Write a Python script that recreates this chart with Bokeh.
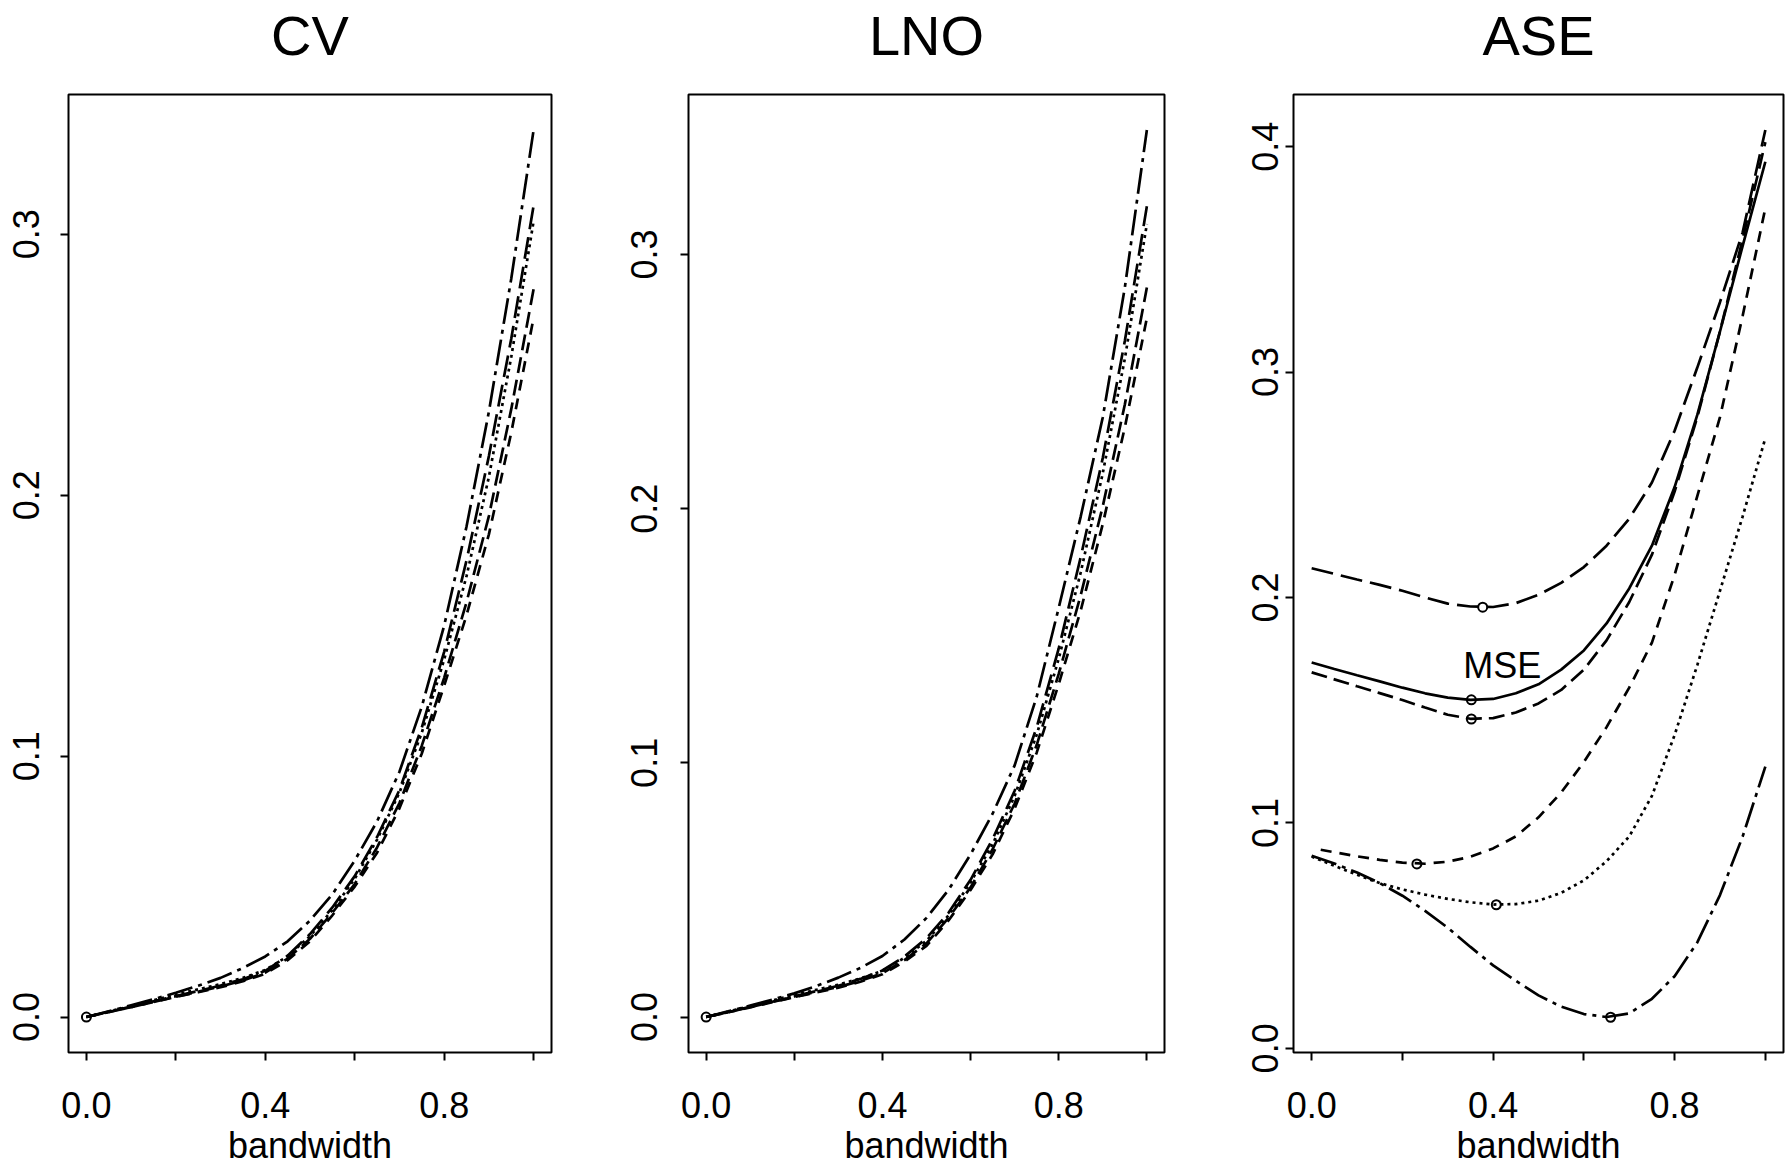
from bokeh.plotting import figure
from bokeh.layouts import row, column
from bokeh.models import FixedTicker, PrintfTickFormatter, Range1d, Label
from bokeh.core.properties import value
from bokeh.embed import file_html
from bokeh.resources import INLINE

# ---------------- data ----------------
titles = ["CV", "LNO", "ASE"]
x_label = "bandwidth"
bandwidth = [0.00, 0.05, 0.10, 0.15, 0.20, 0.25, 0.30, 0.35, 0.40, 0.45, 0.50,
             0.55, 0.60, 0.65, 0.70, 0.75, 0.80, 0.85, 0.90, 0.95, 1.00]

# CV panel
cv_dotdash = [0.0, 0.0022, 0.0045, 0.0068, 0.0093, 0.0120, 0.0150, 0.0188, 0.0232, 0.0290, 0.0370,
              0.0470, 0.0600, 0.0750, 0.0940, 0.1190, 0.1500, 0.1880, 0.2320, 0.2830, 0.3400]
cv_longdash = [0.0, 0.0020, 0.0040, 0.0060, 0.0080, 0.0100, 0.0121, 0.0145, 0.0177, 0.0235, 0.0318,
               0.0420, 0.0540, 0.0690, 0.0870, 0.1110, 0.1400, 0.1750, 0.2150, 0.2600, 0.3110]
cv_dotted = [0.0, 0.0021, 0.0042, 0.0064, 0.0086, 0.0106, 0.0126, 0.0150, 0.0180, 0.0233, 0.0310,
             0.0410, 0.0530, 0.0680, 0.0860, 0.1090, 0.1370, 0.1690, 0.2070, 0.2530, 0.3050]
cv_meddash = [0.0, 0.0019, 0.0038, 0.0058, 0.0078, 0.0097, 0.0117, 0.0140, 0.0170, 0.0224, 0.0300,
              0.0400, 0.0510, 0.0650, 0.0820, 0.1040, 0.1300, 0.1590, 0.1920, 0.2330, 0.2790]
cv_dashed = [0.0, 0.0019, 0.0038, 0.0057, 0.0077, 0.0095, 0.0114, 0.0137, 0.0166, 0.0218, 0.0290,
             0.0390, 0.0500, 0.0630, 0.0800, 0.1010, 0.1270, 0.1540, 0.1850, 0.2240, 0.2680]

# LNO panel
lno_dotdash = [0.0, 0.0022, 0.0045, 0.0068, 0.0093, 0.0122, 0.0155, 0.0193, 0.0240, 0.0305, 0.0390,
               0.0500, 0.0640, 0.0800, 0.0990, 0.1260, 0.1610, 0.1970, 0.2360, 0.2870, 0.3490]
lno_longdash = [0.0, 0.0020, 0.0040, 0.0060, 0.0081, 0.0102, 0.0123, 0.0150, 0.0183, 0.0238, 0.0310,
                0.0410, 0.0540, 0.0700, 0.0890, 0.1140, 0.1450, 0.1810, 0.2200, 0.2660, 0.3190]
lno_dotted = [0.0, 0.0021, 0.0043, 0.0065, 0.0087, 0.0107, 0.0127, 0.0152, 0.0182, 0.0233, 0.0300,
              0.0400, 0.0530, 0.0680, 0.0870, 0.1110, 0.1410, 0.1750, 0.2140, 0.2590, 0.3120]
lno_meddash = [0.0, 0.0019, 0.0039, 0.0059, 0.0079, 0.0099, 0.0118, 0.0142, 0.0172, 0.0224, 0.0290,
               0.0390, 0.0510, 0.0660, 0.0840, 0.1070, 0.1350, 0.1660, 0.2010, 0.2410, 0.2870]
lno_dashed = [0.0, 0.0019, 0.0038, 0.0058, 0.0078, 0.0097, 0.0115, 0.0139, 0.0168, 0.0218, 0.0280,
              0.0380, 0.0500, 0.0640, 0.0820, 0.1040, 0.1310, 0.1600, 0.1940, 0.2320, 0.2750]

# ASE panel
ase_top = [0.2130, 0.2105, 0.2080, 0.2056, 0.2030, 0.2000, 0.1973, 0.1960, 0.1958, 0.1975, 0.2012,
           0.2065, 0.2135, 0.2230, 0.2350, 0.2510, 0.2740, 0.3020, 0.3310, 0.3620, 0.4074]
ase_mse = [0.1712, 0.1683, 0.1655, 0.1628, 0.1600, 0.1575, 0.1556, 0.1546, 0.1550, 0.1575, 0.1615,
           0.1680, 0.1765, 0.1885, 0.2040, 0.2230, 0.2490, 0.2810, 0.3180, 0.3560, 0.3933]
ase_lower = [0.1668, 0.1637, 0.1606, 0.1576, 0.1545, 0.1512, 0.1480, 0.1462, 0.1465, 0.1490, 0.1530,
             0.1590, 0.1680, 0.1810, 0.1980, 0.2190, 0.2470, 0.2800, 0.3180, 0.3590, 0.4020]
ase_dashed_x = [0.02, 0.05, 0.10, 0.15, 0.20, 0.25, 0.30, 0.35, 0.40, 0.45, 0.50,
                0.55, 0.60, 0.65, 0.70, 0.75, 0.80, 0.85, 0.90, 0.95, 1.00]
ase_dashed = [0.0881, 0.0870, 0.0852, 0.0836, 0.0824, 0.0819, 0.0828, 0.0850, 0.0887, 0.0940, 0.1025,
              0.1135, 0.1270, 0.1425, 0.1600, 0.1800, 0.2100, 0.2450, 0.2800, 0.3250, 0.3727]
ase_dotted = [0.0851, 0.0810, 0.0770, 0.0733, 0.0705, 0.0682, 0.0663, 0.0648, 0.0638, 0.0640, 0.0655,
              0.0690, 0.0745, 0.0830, 0.0940, 0.1120, 0.1390, 0.1700, 0.2030, 0.2360, 0.2707]
ase_dotdash = [0.0854, 0.0820, 0.0780, 0.0733, 0.0677, 0.0610, 0.0535, 0.0450, 0.0368, 0.0300, 0.0235,
               0.0185, 0.0152, 0.0139, 0.0155, 0.0220, 0.0320, 0.0470, 0.0680, 0.0940, 0.1250]

# minima (circles)
cv_min_x = [0.0]
cv_min_y = [0.0]
lno_min_x = [0.0]
lno_min_y = [0.0]
ase_min_x = [0.377, 0.352, 0.352, 0.232, 0.407, 0.659]
ase_min_y = [0.1957, 0.1546, 0.1461, 0.0818, 0.0637, 0.0138]

x_major = [0.0, 0.4, 0.8]
x_minor = [0.2, 0.6, 1.0]
cv_yticks = [0.0, 0.1, 0.2, 0.3]
lno_yticks = [0.0, 0.1, 0.2, 0.3]
ase_yticks = [0.0, 0.1, 0.2, 0.3, 0.4]

# ---------------- styles / layout ----------------
FONT = "Liberation Sans"
LW = 2.7
DASH = {
    "solid": "solid",
    "longdash": "22 8",
    "meddash": "16 7",
    "dashed": "11 8",
    "dotted": "3 4",
    "dotdash": "26 6 4 6",
}
PAGE_H = 1168
TITLE_H = 90          # strip carrying the panel titles
TITLE_CENTER = 35     # title centre, px from page top
PANEL_TOP = 4         # gap between title strip and frame top
PANEL_END = 1076      # page y where the panel figures end
TICKLABEL_CENTER = 1104
XLABEL_CENTER = 1145


def rng(values_lists):
    lo = min(min(v) for v in values_lists)
    hi = max(max(v) for v in values_lists)
    d = hi - lo
    return lo - 0.04 * d, hi + 0.04 * d


def strip(width, height, bl, br, xlo, xhi):
    # full-width strip whose x scale matches the panel frame above/below it
    ppu = (width - bl - br) / (xhi - xlo)
    t = figure(width=width, height=height,
               x_range=Range1d(xlo - bl / ppu, xhi + br / ppu), y_range=Range1d(0, height),
               min_border_left=0, min_border_right=0, min_border_top=0, min_border_bottom=0,
               x_axis_location=None, y_axis_location=None,
               output_backend="svg", toolbar_location=None)
    t.grid.visible = False
    t.outline_line_color = None
    t.background_fill_color = "white"
    t.border_fill_color = "white"
    return t


def panel(title, width, bl, br, bb, ystand, yticks, series, min_x, min_y):
    ylo, yhi = rng([s[1] for s in series])
    xlo, xhi = rng([bandwidth])
    p = figure(width=width, height=PANEL_END - TITLE_H,
               x_range=Range1d(xlo, xhi), y_range=Range1d(ylo, yhi),
               min_border_left=bl, min_border_right=br, min_border_top=PANEL_TOP,
               min_border_bottom=bb, output_backend="svg", toolbar_location=None)
    p.grid.visible = False
    p.outline_line_color = "black"
    p.outline_line_width = 2
    p.outline_line_alpha = 1
    p.background_fill_color = "white"
    p.border_fill_color = "white"

    # x axis: tick marks only (labels are set in the strip below, on the same scale)
    xa = p.xaxis[0]
    xa.ticker = FixedTicker(ticks=[], minor_ticks=sorted(x_major + x_minor))
    xa.major_label_standoff = 0
    ya = p.yaxis[0]
    ya.ticker = FixedTicker(ticks=yticks, minor_ticks=[])
    ya.formatter = PrintfTickFormatter(format="%.1f")
    ya.major_label_orientation = "vertical"
    ya.major_label_text_font = FONT
    ya.major_label_text_font_size = "36px"
    ya.major_label_text_color = "black"
    ya.major_label_standoff = ystand
    for ax in (xa, ya):
        ax.axis_line_color = None
        ax.major_tick_out = 8
        ax.major_tick_in = 0
        ax.minor_tick_out = 8
        ax.minor_tick_in = 0
        ax.major_tick_line_width = 2
        ax.minor_tick_line_width = 2
        ax.major_tick_line_color = "black"
        ax.minor_tick_line_color = "black"
    ya.minor_tick_line_color = None

    for xs, ys, style in series:
        p.line(xs, ys, line_color="black", line_width=LW, line_dash=DASH[style])
    p.scatter(min_x, min_y, marker="circle", size=9, fill_color=None,
              line_color="black", line_width=2)

    # title strip
    t = strip(width, TITLE_H, bl, br, xlo, xhi)
    t.text(x=[(xlo + xhi) / 2], y=[TITLE_H - TITLE_CENTER], text=[title],
           text_align="center", text_baseline="middle", text_font=value(FONT),
           text_font_size="56px", text_color="black")
    # x tick labels + axis label strip
    sh = PAGE_H - PANEL_END
    b = strip(width, sh, bl, br, xlo, xhi)
    b.text(x=x_major, y=[sh - (TICKLABEL_CENTER - PANEL_END)] * len(x_major),
           text=["%.1f" % v for v in x_major], text_align="center", text_baseline="middle",
           text_font=value(FONT), text_font_size="36px", text_color="black")
    b.text(x=[(xlo + xhi) / 2], y=[sh - (XLABEL_CENTER - PANEL_END)], text=[x_label],
           text_align="center", text_baseline="middle", text_font=value(FONT),
           text_font_size="36px", text_color="black")
    return t, p, b


t1, p1, l1 = panel(titles[0], 600, 68, 49, 21, 21, cv_yticks, [
    (bandwidth, cv_dotdash, "dotdash"),
    (bandwidth, cv_longdash, "longdash"),
    (bandwidth, cv_dotted, "dotted"),
    (bandwidth, cv_meddash, "meddash"),
    (bandwidth, cv_dashed, "dashed"),
], cv_min_x, cv_min_y)

t2, p2, l2 = panel(titles[1], 600, 88, 36, 21, 23, lno_yticks, [
    (bandwidth, lno_dotdash, "dotdash"),
    (bandwidth, lno_longdash, "longdash"),
    (bandwidth, lno_dotted, "dotted"),
    (bandwidth, lno_meddash, "meddash"),
    (bandwidth, lno_dashed, "dashed"),
], lno_min_x, lno_min_y)

t3, p3, l3 = panel(titles[2], 589, 93, 6, 24, 7, ase_yticks, [
    (bandwidth, ase_top, "longdash"),
    (bandwidth, ase_mse, "solid"),
    (bandwidth, ase_lower, "meddash"),
    (ase_dashed_x, ase_dashed, "dashed"),
    (bandwidth, ase_dotted, "dotted"),
    (bandwidth, ase_dotdash, "dotdash"),
], ase_min_x, ase_min_y)
p3.add_layout(Label(x=0.42, y=0.170, text="MSE", text_align="center", text_baseline="middle",
                    text_font=FONT, text_font_size="36px", text_color="black"))

layout = column(row(t1, t2, t3, spacing=0),
                row(p1, p2, p3, spacing=0),
                row(l1, l2, l3, spacing=0), spacing=0)
open("out.html", "w").write(file_html(layout, INLINE))
